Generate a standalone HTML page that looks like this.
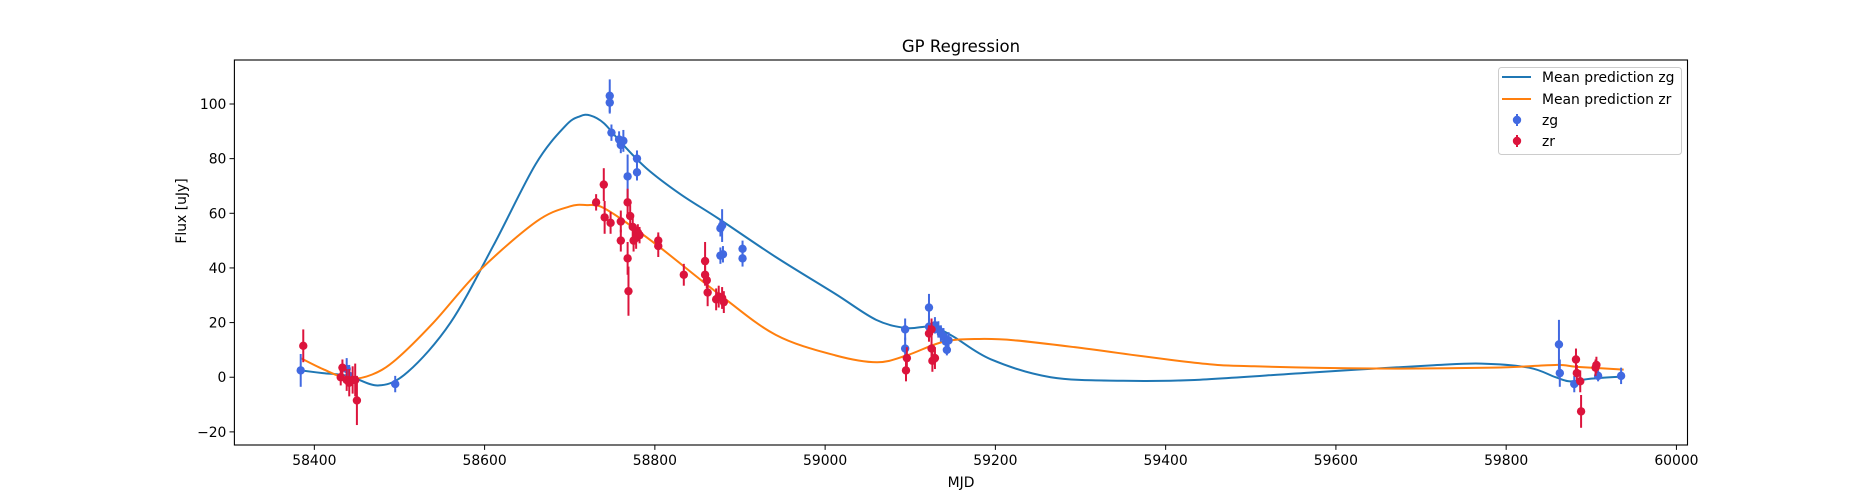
<!DOCTYPE html>
<html><head><meta charset="utf-8"><style>
body{margin:0;background:#fff}
svg{display:block;font-family:"DejaVu Sans","Liberation Sans",sans-serif}
</style></head><body>
<svg id="chart" width="1875" height="500" viewBox="0 0 1875 500" xmlns="http://www.w3.org/2000/svg">
<rect width="1875" height="500" fill="#fff"/>
<text x="961" y="52" font-size="16.5" text-anchor="middle">GP Regression</text>
<g id="plot"></g>
<g id="axes"></g>
<text x="961" y="487" font-size="13.9" text-anchor="middle">MJD</text>
<text transform="translate(186,211) rotate(-90)" font-size="13.9" text-anchor="middle">Flux [uJy]</text>
<g>
<rect x="1498.5" y="67.5" width="183" height="87" rx="3" fill="#fff" fill-opacity="0.8" stroke="#ccc"/>
<g><line x1="1502" y1="77" x2="1531" y2="77" stroke="#1f77b4" stroke-width="2"/><text x="1542" y="82" font-size="13.9">Mean prediction zg</text></g>
<g><line x1="1502" y1="99" x2="1531" y2="99" stroke="#ff7f0e" stroke-width="2"/><text x="1542" y="104" font-size="13.9">Mean prediction zr</text></g>
<g><line x1="1517" y1="114" x2="1517" y2="126" stroke="#4169e1" stroke-width="2"/><circle cx="1517" cy="120" r="4.2" fill="#4169e1"/><text x="1542" y="125" font-size="13.9">zg</text></g>
<g><line x1="1517" y1="135" x2="1517" y2="147" stroke="#dc143c" stroke-width="2"/><circle cx="1517" cy="141" r="4.2" fill="#dc143c"/><text x="1542" y="146" font-size="13.9">zr</text></g>
</g>
</svg>
<script>
const xTicks=[58400,58600,58800,59000,59200,59400,59600,59800,60000];
const yTicks=[-20,0,20,40,60,80,100];
const zgMjd=[58384,58438,58441,58495,58747,58747,58749,58758,58760,58763,58768,58779,58779,58877,58879,58877,58880,58903,58903,59094,59094,59122,59122,59129,59133,59136,59139,59142,59143,59145,59862,59863,59880,59908,59935];
const zgFlux=[2.5,3,0.5,-2.5,103,100.5,89.5,87,85,86.5,73.5,80,75,54.5,55.5,44.5,45,47,43.5,17.5,10.5,25.5,18.5,19,17.5,16,15,13,10,13.5,12,1.5,-2.5,0.5,0.5];
const zgErr=[6,4,4,3,6,4,3,3,3,4,8,3,3,3,6,3,3,3,3,4,4,5,4,3,3,3,3,3,2,3,9,5,3,2,3];
const zrMjd=[58387,58431,58433,58438,58441,58445,58448,58450,58731,58740,58741,58748,58760,58760,58768,58769,58768,58771,58774,58775,58778,58780,58782,58804,58804,58834,58859,58859,58861,58862,58872,58875,58879,58881,59095,59096,59122,59125,59125,59126,59129,59882,59883,59887,59888,59905,59906];
const zrFlux=[11.5,0,3.5,-1,-2,-1,-1,-8.5,64,70.5,58.5,56.5,57,50,43.5,31.5,64,59,55,50,51,53,52,50,48,37.5,42.5,37.5,35.5,31,28.5,29.5,29,27.5,2.5,7,16,17.5,10.5,6,7,6.5,1.5,-1.5,-12.5,3.5,4.5];
const zrErr=[6,3,3,4,5,5,6,9,3,6,6,4,4,4,6,9,5,4,4,4,4,3,3,3,4,4,7,4,3,5,4,4,4,4,4,4,3,4,4,4,4,4,3,4,6,3,3];
const gpMjd=[58384,58410,58440,58476,58510,58560,58610,58660,58695,58712,58724,58740,58760,58790,58830,58875,58942,59012,59060,59096,59125,59150,59195,59265,59350,59434,59574,59715,59771,59827,59858,59875,59900,59938];
const gpZg=[2.5,1.5,0.5,-3,2,20,48,78,92,95.5,95.8,93,86,76.5,67,58,44,30.5,21,18,18.5,15,6.5,0,-1.3,-1,1.8,4.4,5,3.5,0,-1.5,-0.5,0.3];
const gpZrMjd=[58384,58410,58440,58468,58496,58540,58594,58661,58700,58720,58736,58760,58804,58875,58942,59012,59061,59096,59139,59181,59223,59293,59434,59504,59645,59785,59858,59883,59938];
const gpZr=[7,3,-0.5,1,6.5,20,39,57,62.5,63,62.5,58,48,30.5,15.5,8,5.5,8,13,14,13.5,11,5.3,4,3.2,3.5,4.5,3.8,2.8];

const L=234.4,R=1687.5,T=60,B=445,XMIN=58306.1,XMAX=60013,YMIN=-24.8,YMAX=116.1;
const sx=v=>L+(v-XMIN)/(XMAX-XMIN)*(R-L);
const sy=v=>B-(v-YMIN)/(YMAX-YMIN)*(B-T);
const NS='http://www.w3.org/2000/svg';
const plot=document.getElementById('plot'),axes=document.getElementById('axes');
function mk(t,a,p){const e=document.createElementNS(NS,t);for(const k in a)e.setAttribute(k,a[k]);p.appendChild(e);return e;}
function smooth(xs,ys){let d='M'+sx(xs[0])+','+sy(ys[0]);
 for(let i=0;i<xs.length-1;i++){const p0=[sx(xs[Math.max(0,i-1)]),sy(ys[Math.max(0,i-1)])],p1=[sx(xs[i]),sy(ys[i])],p2=[sx(xs[i+1]),sy(ys[i+1])],p3=[sx(xs[Math.min(xs.length-1,i+2)]),sy(ys[Math.min(xs.length-1,i+2)])];
 const c1=[p1[0]+(p2[0]-p0[0])/6,p1[1]+(p2[1]-p0[1])/6],c2=[p2[0]-(p3[0]-p1[0])/6,p2[1]-(p3[1]-p1[1])/6];
 d+=' C'+c1+' '+c2+' '+p2;}return d;}
const lz=mk('path',{d:smooth(gpMjd,gpZg),fill:'none',stroke:'#1f77b4','stroke-width':2},plot);


const lr=mk('path',{d:smooth(gpZrMjd,gpZr),fill:'none',stroke:'#ff7f0e','stroke-width':2},plot);


function pts(xs,ys,es,col,name){xs.forEach((x,i)=>{const g=mk('g',{},plot);
 
 
 mk('line',{x1:sx(x),x2:sx(x),y1:sy(ys[i]-es[i]),y2:sy(ys[i]+es[i]),stroke:col,'stroke-width':2},g);
 mk('circle',{cx:sx(x),cy:sy(ys[i]),r:4.2,fill:col},g);});}
pts(zgMjd,zgFlux,zgErr,'#4169e1','zg');
pts(zrMjd,zrFlux,zrErr,'#dc143c','zr');
const fr=mk('rect',{x:L,y:T,width:R-L,height:B-T,fill:'none',stroke:'#000','stroke-width':1.1},axes);


xTicks.forEach(v=>{mk('line',{x1:sx(v),x2:sx(v),y1:B,y2:B+4.9,stroke:'#000'},axes);
 const t=mk('text',{x:sx(v),y:B+20,'font-size':13.9,'text-anchor':'middle'},axes);t.textContent=v;
 
 });
yTicks.forEach(v=>{mk('line',{x1:L-4.9,x2:L,y1:sy(v),y2:sy(v),stroke:'#000'},axes);
 const t=mk('text',{x:L-8,y:sy(v)+5,'font-size':13.9,'text-anchor':'end'},axes);t.textContent=v<0?'\u2212'+(-v):v;
 
 });
</script>
</body></html>
